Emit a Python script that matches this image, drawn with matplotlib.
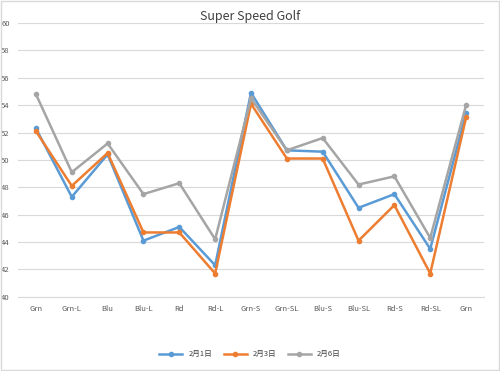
import matplotlib
matplotlib.use("Agg")
import matplotlib.pyplot as plt
from matplotlib.patches import Rectangle

plt.rcParams['font.family'] = ['Noto Sans CJK JP', 'DejaVu Sans']

categories = ["Grn", "Grn-L", "Blu", "Blu-L", "Rd", "Rd-L", "Grn-S", "Grn-SL",
              "Blu-S", "Blu-SL", "Rd-S", "Rd-SL", "Grn"]
feb1 = [52.3, 47.3, 50.4, 44.1, 45.1, 42.3, 54.9, 50.7, 50.6, 46.5, 47.5, 43.5, 53.4]
feb3 = [52.1, 48.1, 50.5, 44.7, 44.7, 41.7, 54.1, 50.1, 50.1, 44.1, 46.7, 41.7, 53.1]
feb6 = [54.8, 49.1, 51.2, 47.5, 48.3, 44.2, 54.5, 50.7, 51.6, 48.2, 48.8, 44.3, 54.0]
series_names = ["2月1日", "2月3日", "2月6日"]
colors = ["#5B9BD5", "#ED7D31", "#A5A5A5"]

fig = plt.figure(figsize=(5, 3.71), dpi=100)
ax = fig.add_axes([0.036, 0.2, 0.932, 0.738])

x = list(range(len(categories)))
for vals, name, c in zip([feb1, feb3, feb6], series_names, colors):
    ax.plot(x, vals, color=c, lw=1.8, marker='o', ms=3, label=name, zorder=3)

ax.set_xlim(-0.5, len(categories) - 0.5)
ax.set_ylim(40, 60)
ax.set_yticks(range(40, 61, 2))
ax.set_xticks(x)
ax.set_xticklabels(categories)
ax.tick_params(axis='both', length=0, labelsize=5.5, colors='#595959')
ax.tick_params(axis='x', pad=6)
ax.tick_params(axis='y', pad=6)
ax.grid(axis='y', color='#D9D9D9', lw=0.8)
for s in ['top', 'right', 'left']:
    ax.spines[s].set_visible(False)
ax.spines['bottom'].set_color('#D9D9D9')
ax.set_axisbelow(True)

fig.text(0.5, 0.955, "Super Speed Golf", ha='center', va='center', fontsize=9, color='#404040')
fig.legend(loc='center', bbox_to_anchor=(0.5, 0.045), ncol=3, frameon=False,
           fontsize=5.5, handlelength=3, columnspacing=1.5, labelcolor='#404040')

fig.patches.append(Rectangle((0.002, 0.003), 0.996, 0.994, transform=fig.transFigure,
                             fill=False, edgecolor='#D9D9D9', lw=1))

fig.savefig("out.png", dpi=100)
